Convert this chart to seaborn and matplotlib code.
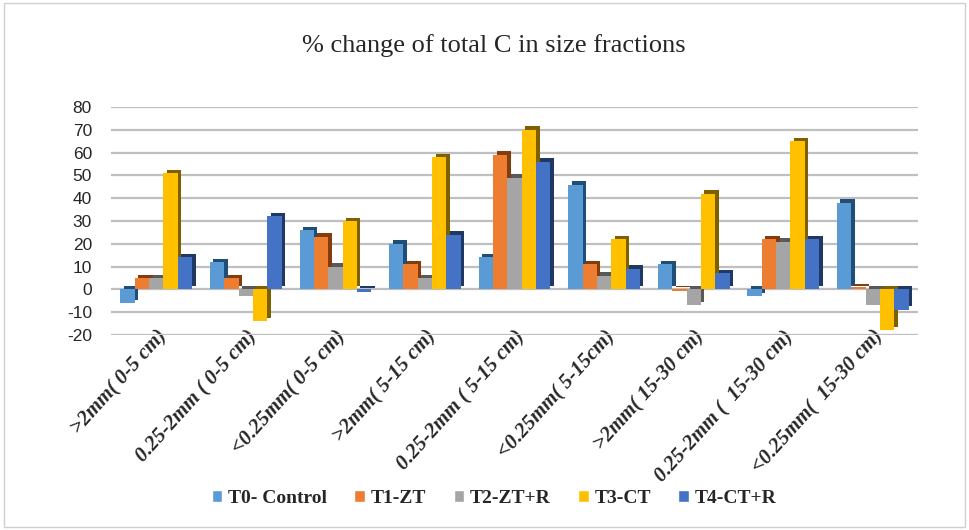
import pandas as pd
import seaborn as sns
import matplotlib
matplotlib.use('Agg')
import matplotlib.pyplot as plt
import matplotlib.patheffects as pe
from matplotlib.patches import Rectangle

# size fractions (x categories)
fractions = [">2mm( 0-5 cm)", "0.25-2mm ( 0-5 cm)", "<0.25mm( 0-5 cm)",
             ">2mm( 5-15 cm)", "0.25-2mm ( 5-15 cm)", "<0.25mm( 5-15cm)",
             ">2mm( 15-30 cm)", "0.25-2mm (  15-30 cm)", "<0.25mm(  15-30 cm)"]

treatments = ["T0- Control", "T1-ZT", "T2-ZT+R", "T3-CT", "T4-CT+R"]

# % change values
t0 = [-6, 12, 26, 20, 14, 46, 11, -3, 38]
t1 = [5, 5, 23, 11, 59, 11, -0.5, 22, 1]
t2 = [5, -3, 10, 5, 49, 6, -7, 21, -7]
t3 = [51, -14, 30, 58, 70, 22, 42, 65, -18]
t4 = [14, 32, -1, 24, 56, 9, 7, 22, -9]

colors = ["#5B9BD5", "#ED7D31", "#A5A5A5", "#FFC000", "#4472C4"]
shadows = ["#1F4E79", "#843C0C", "#595959", "#7F6000", "#1F3864"]

rows = []
for name, vals in zip(treatments, [t0, t1, t2, t3, t4]):
    for frac, v in zip(fractions, vals):
        rows.append({"fraction": frac, "treatment": name, "value": v})
df = pd.DataFrame(rows)

sns.set_style("white")
plt.rcParams['axes.unicode_minus'] = False
fig = plt.figure(figsize=(9.69, 5.30), dpi=100)
ax = fig.add_axes([0.115, 0.368, 0.832, 0.43])

sns.barplot(data=df, x="fraction", y="value", hue="treatment",
            palette=colors, width=0.8, ax=ax, errorbar=None, saturation=1)

# fake the excel 3d look with a dark offset shadow on each bar
for cont, sh in zip(ax.containers, shadows):
    for bar in cont:
        bar.set_path_effects([pe.SimplePatchShadow(offset=(2.5, 2.5), shadow_rgbFace=sh, alpha=1),
                              pe.Normal()])
        bar.set_edgecolor("none")

ax.set_ylim(-20, 80)
ax.set_yticks(range(-20, 81, 10))
ax.set_xlim(-0.5, 8.5)
ax.grid(axis="y", color="#BFBFBF", linewidth=1.6)
ax.set_axisbelow(True)
for s in ax.spines.values():
    s.set_visible(False)
ax.set_xlabel("")
ax.set_ylabel("")
ax.tick_params(axis="y", length=0, pad=14, labelsize=12.5, labelcolor="#262626")
ax.tick_params(axis="x", length=0, pad=-6)
for t in ax.get_yticklabels():
    t.set_fontfamily("Liberation Sans")
ax.set_xticks(range(len(fractions)))
ax.set_xticklabels(fractions, rotation=48, ha="right", rotation_mode="anchor",
                   fontfamily="Liberation Serif", fontweight="bold", fontstyle="italic",
                   fontsize=15)

fig.text(0.51, 0.915, "% change of total C in size fractions", ha="center", va="center",
         fontfamily="Liberation Serif", fontsize=19, color="#262626")

ax.get_legend().remove()
handles = [Rectangle((0, 0), 1, 1, facecolor=c) for c in colors]
fig.legend(handles, treatments, loc="center", bbox_to_anchor=(0.51, 0.06), ncol=5,
           frameon=False, prop={"family": "Liberation Serif", "weight": "bold", "size": 14},
           handlelength=0.55, handleheight=0.55, handletextpad=0.3, columnspacing=1.4)

fig.patches.append(Rectangle((0.004, 0.006), 0.992, 0.988, transform=fig.transFigure,
                             fill=False, edgecolor="#D0D0D0", linewidth=1))

fig.savefig("out.png", dpi=100)
